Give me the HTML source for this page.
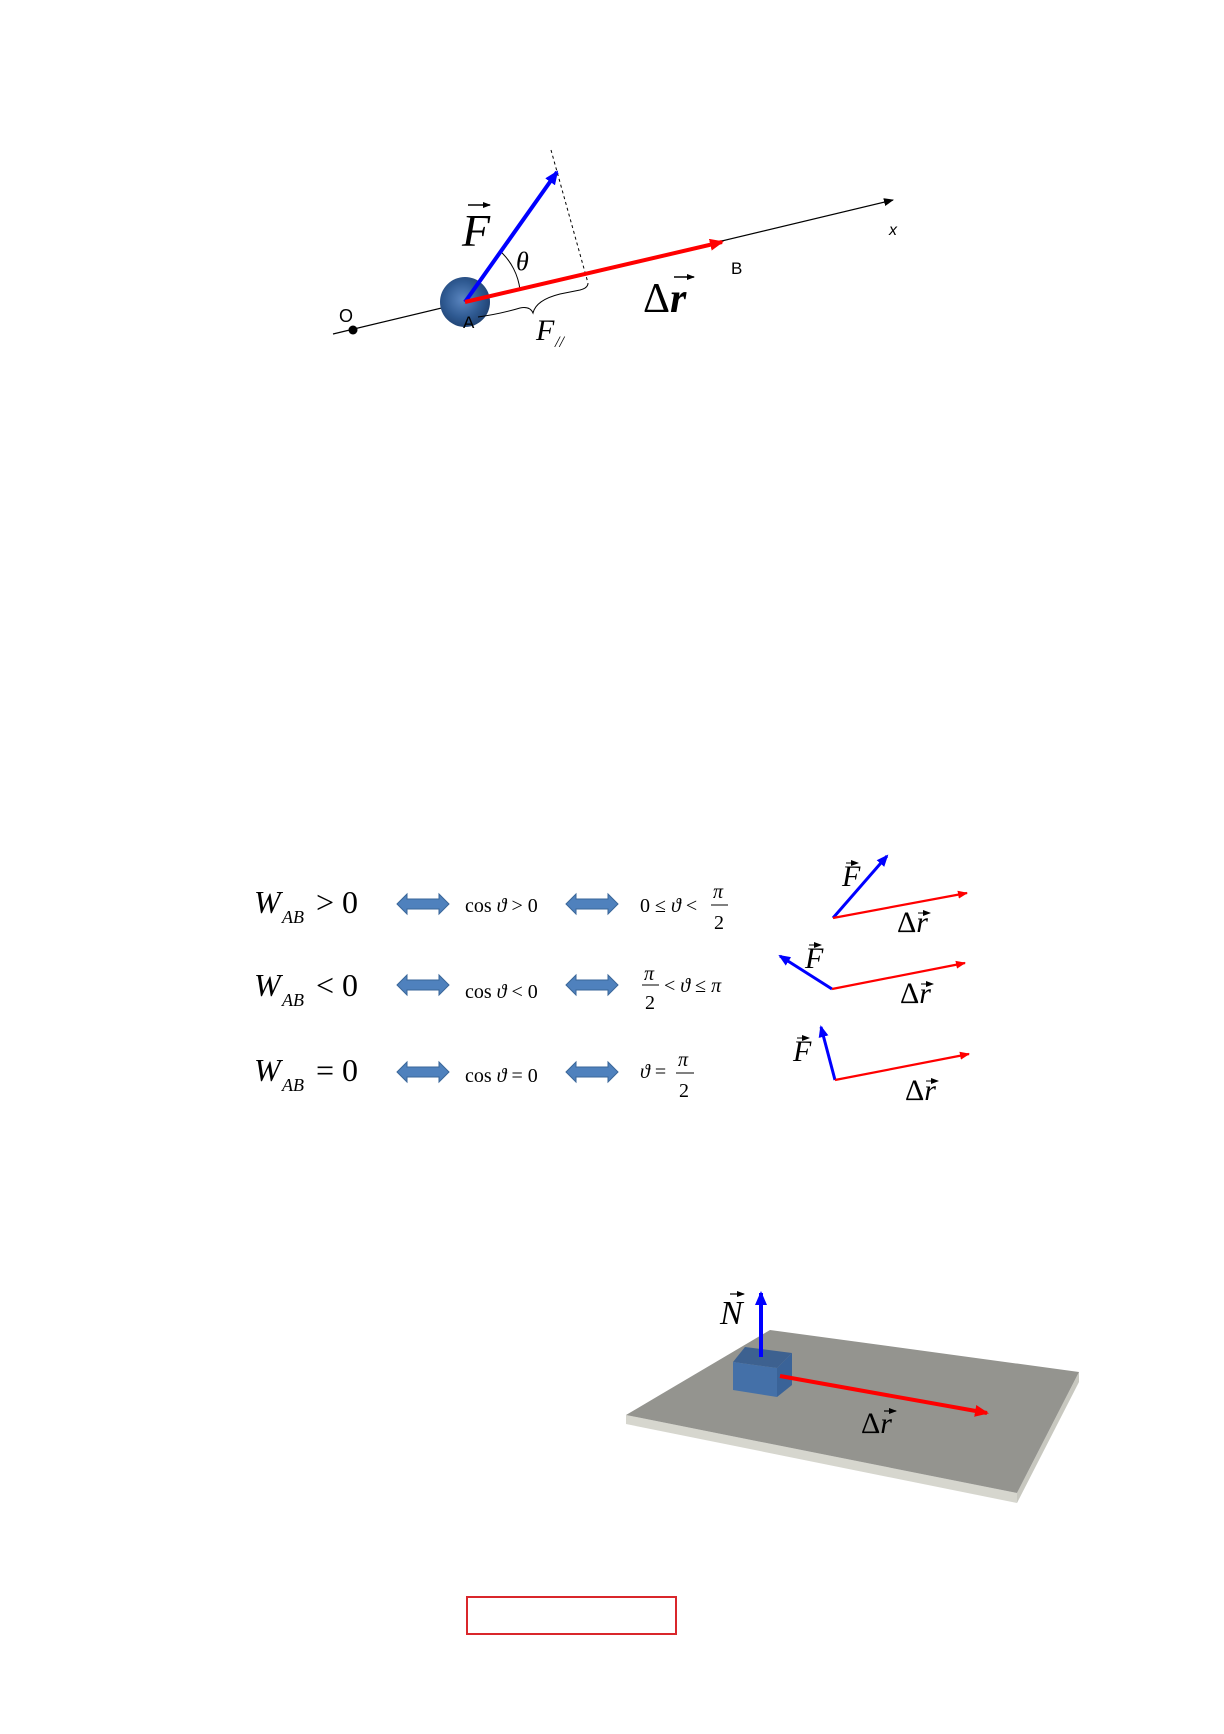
<!DOCTYPE html>
<html><head><meta charset="utf-8"><style>
html,body{margin:0;padding:0;background:#fff}
svg{display:block}
text{font-family:"Liberation Serif",serif}
.s{font-family:"Liberation Sans",sans-serif}
</style></head><body>
<svg width="1224" height="1734" viewBox="0 0 1224 1734" xmlns="http://www.w3.org/2000/svg">
<defs>
<marker id="ak" markerWidth="10" markerHeight="8" refX="9" refY="4" orient="auto" markerUnits="userSpaceOnUse"><path d="M0,0 L10,4 L0,8 Z" fill="#000"/></marker>
<marker id="ab" markerWidth="14" markerHeight="12" refX="12" refY="6" orient="auto" markerUnits="userSpaceOnUse"><path d="M0,0 L14,6 L0,12 Z" fill="#00f"/></marker>
<marker id="ar" markerWidth="14" markerHeight="12" refX="12" refY="6" orient="auto" markerUnits="userSpaceOnUse"><path d="M0,0 L14,6 L0,12 Z" fill="#f00"/></marker>
<marker id="ab2" markerWidth="12" markerHeight="10" refX="10" refY="5" orient="auto" markerUnits="userSpaceOnUse"><path d="M0,0 L12,5 L0,10 Z" fill="#00f"/></marker>
<marker id="ar2" markerWidth="10" markerHeight="8" refX="9" refY="4" orient="auto" markerUnits="userSpaceOnUse"><path d="M0,0 L10,4 L0,8 Z" fill="#f00"/></marker>
<marker id="ah" markerWidth="8" markerHeight="6" refX="7" refY="3" orient="auto" markerUnits="userSpaceOnUse"><path d="M0,0 L8,3 L0,6 Z" fill="#000"/></marker>
<radialGradient id="ball" cx="0.45" cy="0.45" r="0.6"><stop offset="0" stop-color="#5b86c0"/><stop offset="0.6" stop-color="#2f5a92"/><stop offset="1" stop-color="#1e3f6e"/></radialGradient>
<g id="dar"><path d="M0,0 L10,-10 L10,-5 L42,-5 L42,-10 L52,0 L42,10 L42,5 L10,5 L10,10 Z" fill="#4f81bd" stroke="#3a6699" stroke-width="1"/></g>
</defs>

<!-- Top diagram -->
<line x1="333" y1="334" x2="893" y2="200" stroke="#000" stroke-width="1.2" marker-end="url(#ak)"/>
<circle cx="353" cy="330" r="4.5" fill="#000"/>
<text x="339" y="322" class="s" font-size="18">O</text>
<line x1="551" y1="150" x2="588" y2="283" stroke="#000" stroke-width="1" stroke-dasharray="3,3"/>
<circle cx="465" cy="302" r="25" fill="url(#ball)"/>
<path d="M478,317 Q500,314 520,308 Q530,306 533,313 Q536,300 560,294 L580,290 Q588,288 588,283" fill="none" stroke="#000" stroke-width="1"/>
<path d="M500,251 A62,62 0 0 1 520,290" fill="none" stroke="#000" stroke-width="1"/>
<line x1="465" y1="302" x2="557" y2="172" stroke="#00f" stroke-width="4" marker-end="url(#ab)"/>
<line x1="465" y1="302" x2="722" y2="242" stroke="#f00" stroke-width="4" marker-end="url(#ar)"/>
<text x="463" y="328" class="s" font-size="17">A</text>
<text x="731" y="274" class="s" font-size="17">B</text>
<text x="889" y="235" class="s" font-size="16" font-style="italic">x</text>
<text x="462" y="246" font-size="46" font-style="italic">F</text>
<line x1="468" y1="205" x2="490" y2="205" stroke="#000" stroke-width="1.5" marker-end="url(#ah)"/>
<text x="516" y="270" font-size="26" font-style="italic">θ</text>
<text x="536" y="340" font-size="30" font-style="italic">F</text>
<text x="555" y="347" font-size="16" font-style="italic">//</text>
<text x="643" y="312" font-size="42">Δ<tspan font-style="italic" font-weight="bold">r</tspan></text>
<line x1="674" y1="277" x2="694" y2="277" stroke="#000" stroke-width="1.5" marker-end="url(#ah)"/>

<!-- Middle table -->
<g font-size="32">
<text x="254" y="913" font-style="italic">W</text><text x="282" y="923" font-size="18" font-style="italic">AB</text><text x="316" y="913">&gt; 0</text>
<text x="254" y="996" font-style="italic">W</text><text x="282" y="1006" font-size="18" font-style="italic">AB</text><text x="316" y="996">&lt; 0</text>
<text x="254" y="1081" font-style="italic">W</text><text x="282" y="1091" font-size="18" font-style="italic">AB</text><text x="316" y="1081">= 0</text>
</g>
<use href="#dar" x="397" y="904"/><use href="#dar" x="566" y="904"/>
<use href="#dar" x="397" y="985"/><use href="#dar" x="566" y="985"/>
<use href="#dar" x="397" y="1072"/><use href="#dar" x="566" y="1072"/>
<g font-size="20">
<text x="465" y="912">cos <tspan font-style="italic">ϑ</tspan> &gt; 0</text>
<text x="465" y="998">cos <tspan font-style="italic">ϑ</tspan> &lt; 0</text>
<text x="465" y="1082">cos <tspan font-style="italic">ϑ</tspan> = 0</text>
<text x="640" y="912">0 ≤ <tspan font-style="italic">ϑ</tspan> &lt;</text>
<text x="713" y="898" font-style="italic">π</text><line x1="711" y1="905" x2="728" y2="905" stroke="#000"/><text x="714" y="929">2</text>
<text x="644" y="980" font-style="italic">π</text><line x1="642" y1="985" x2="659" y2="985" stroke="#000"/><text x="645" y="1009">2</text>
<text x="664" y="992">&lt; <tspan font-style="italic">ϑ</tspan> ≤ <tspan font-style="italic">π</tspan></text>
<text x="640" y="1078"><tspan font-style="italic">ϑ</tspan> =</text>
<text x="678" y="1066" font-style="italic">π</text><line x1="676" y1="1073" x2="694" y2="1073" stroke="#000"/><text x="679" y="1097">2</text>
</g>

<!-- Right mini vectors -->
<g stroke-width="3">
<line x1="833" y1="918" x2="887" y2="856" stroke="#00f" marker-end="url(#ab2)"/>
<line x1="833" y1="918" x2="967" y2="893" stroke="#f00" stroke-width="2.2" marker-end="url(#ar2)"/>
<line x1="832" y1="989" x2="780" y2="956" stroke="#00f" marker-end="url(#ab2)"/>
<line x1="832" y1="989" x2="965" y2="963" stroke="#f00" stroke-width="2.2" marker-end="url(#ar2)"/>
<line x1="835" y1="1080" x2="821" y2="1027" stroke="#00f" marker-end="url(#ab2)"/>
<line x1="835" y1="1080" x2="969" y2="1054" stroke="#f00" stroke-width="2.2" marker-end="url(#ar2)"/>
</g>
<g font-size="30">
<text x="842" y="886" font-style="italic">F</text><line x1="846" y1="863" x2="858" y2="863" stroke="#000" marker-end="url(#ah)"/>
<text x="897" y="932">Δ<tspan font-style="italic">r</tspan></text><line x1="918" y1="913" x2="930" y2="913" stroke="#000" marker-end="url(#ah)"/>
<text x="805" y="968" font-style="italic">F</text><line x1="809" y1="945" x2="821" y2="945" stroke="#000" marker-end="url(#ah)"/>
<text x="900" y="1003">Δ<tspan font-style="italic">r</tspan></text><line x1="921" y1="984" x2="933" y2="984" stroke="#000" marker-end="url(#ah)"/>
<text x="793" y="1061" font-style="italic">F</text><line x1="797" y1="1038" x2="809" y2="1038" stroke="#000" marker-end="url(#ah)"/>
<text x="905" y="1100">Δ<tspan font-style="italic">r</tspan></text><line x1="926" y1="1081" x2="938" y2="1081" stroke="#000" marker-end="url(#ah)"/>
</g>

<!-- Bottom 3D plate -->
<polygon points="626,1415 1017,1493 1017,1503 626,1424" fill="#d6d6ce"/>
<polygon points="1017,1493 1079,1372 1079,1382 1017,1503" fill="#c8c8c0"/>
<polygon points="626,1415 770,1330 1079,1372 1017,1493" fill="#94948f"/>
<polygon points="733,1362 745,1347 792,1353 777,1368" fill="#3d6190"/>
<polygon points="733,1362 777,1368 777,1397 733,1390" fill="#4470a8"/>
<polygon points="777,1368 792,1353 792,1385 777,1397" fill="#3a6398"/>
<line x1="761" y1="1357" x2="761" y2="1293" stroke="#00f" stroke-width="4" marker-end="url(#ab)"/>
<line x1="780" y1="1376" x2="987" y2="1413" stroke="#f00" stroke-width="4" marker-end="url(#ar)"/>
<text x="720" y="1324" font-size="34" font-style="italic">N</text>
<line x1="730" y1="1294" x2="744" y2="1294" stroke="#000" stroke-width="1.2" marker-end="url(#ah)"/>
<text x="861" y="1433" font-size="30">Δ<tspan font-style="italic">r</tspan></text>
<line x1="884" y1="1411" x2="896" y2="1411" stroke="#000" stroke-width="1.2" marker-end="url(#ah)"/>

<rect x="467" y="1597" width="209" height="37" fill="none" stroke="#d9262b" stroke-width="2"/>
</svg>
</body></html>
